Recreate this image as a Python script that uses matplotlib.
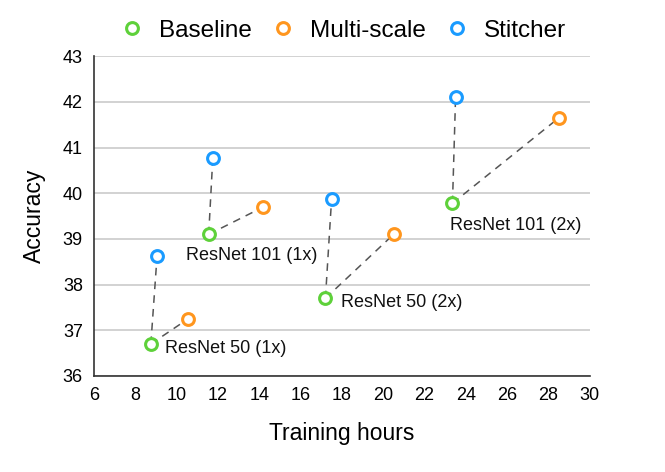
import matplotlib
matplotlib.use("Agg")
import matplotlib.pyplot as plt
from matplotlib.lines import Line2D

plt.rcParams['font.family'] = ['Liberation Sans', 'DejaVu Sans']

models = ["ResNet 50 (1x)", "ResNet 101 (1x)", "ResNet 50 (2x)", "ResNet 101 (2x)"]
baseline_hours = [8.75, 11.55, 17.2, 23.35]
baseline_acc = [36.7, 39.1, 37.7, 39.78]
multiscale_hours = [10.55, 14.2, 20.5, 28.5]
multiscale_acc = [37.25, 39.7, 39.1, 41.65]
stitcher_hours = [9.05, 11.75, 17.5, 23.5]
stitcher_acc = [38.62, 40.78, 39.88, 42.1]

green = "#5ed13a"
orange = "#ff961e"
blue = "#1a9bff"

fig = plt.figure(figsize=(6.65, 4.72), dpi=100)
ax = fig.add_axes([0.1414, 0.2034, 0.7456, 0.6776])

ax.set_xlim(6, 30)
ax.set_ylim(36, 43)
ax.set_xticks(range(6, 31, 2))
ax.set_yticks(range(36, 44))
ax.yaxis.grid(True, color="#cbcbcb", linewidth=1.2)
ax.set_axisbelow(True)
for s in ["top", "right"]:
    ax.spines[s].set_visible(False)
for s in ["left", "bottom"]:
    ax.spines[s].set_color("#333333")
    ax.spines[s].set_linewidth(1.2)
ax.tick_params(axis="both", length=0, labelsize=13, pad=8)

dash = dict(color="#555555", linestyle=(0, (5, 4)), linewidth=1.1, zorder=2)
for bx, by, mx, my, sx, sy in zip(baseline_hours, baseline_acc, multiscale_hours,
                                   multiscale_acc, stitcher_hours, stitcher_acc):
    ax.plot([bx, mx], [by, my], **dash)
    ax.plot([bx, sx], [by, sy], **dash)

mk = dict(marker="o", markersize=8.5, markerfacecolor="white", markeredgewidth=2.2,
          linestyle="none", zorder=3, clip_on=False)
ax.plot(baseline_hours, baseline_acc, markeredgecolor=green, **mk)
ax.plot(multiscale_hours, multiscale_acc, markeredgecolor=orange, **mk)
ax.plot(stitcher_hours, stitcher_acc, markeredgecolor=blue, **mk)

offsets = [(10, -3), (-16, -15), (11, -3), (-2, -16)]
for name, bx, by, off in zip(models, baseline_hours, baseline_acc, offsets):
    ax.annotate(name, (bx, by), xytext=off, textcoords="offset points",
                fontsize=13, va="center", ha="left", color="#111111")

ax.set_xlabel("Training hours", fontsize=16.5, labelpad=13)
ax.set_ylabel("Accuracy", fontsize=16.5, labelpad=12)

handles = [Line2D([], [], marker="o", markersize=8.5, markerfacecolor="white",
                  markeredgewidth=2.2, markeredgecolor=c, linestyle="none")
           for c in (green, orange, blue)]
fig.legend(handles, ["Baseline", "Multi-scale", "Stitcher"], loc="upper center",
           bbox_to_anchor=(0.516, 1.005), ncol=3, frameon=False, fontsize=17.5,
           handlelength=1.0, handletextpad=0.6, columnspacing=0.8)

fig.savefig("out.png", dpi=100)
